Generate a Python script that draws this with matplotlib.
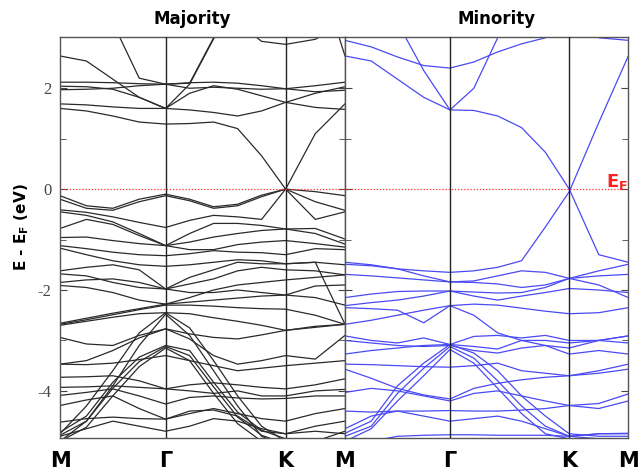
import numpy as np
import matplotlib
matplotlib.use("Agg")
import matplotlib.pyplot as plt

# ---------------- data ----------------
k_labels = ["M", "Γ", "K", "M"]
k_nodes = [0.0, 0.88, 1.88, 2.375]          # high-symmetry points along path
seg_div = [4, 5, 2]                          # samples per segment M-Γ, Γ-K, K-M

# Majority-spin bands (eV), sampled at the 12 k-points of the path
maj_u1 = [2.64, 2.54, 2.18, 1.82, 1.60, 2.08, 2.98, 3.6, 3.8, 3.9, 3.6, 3.4]
maj_u2 = [3.9, 3.7, 3.3, 2.2, 2.08, 2.1, 3.0, 3.3, 2.93, 2.87, 2.97, 3.3]
maj_u3 = [3.4, 3.6, 3.9, 4.2, 4.3, 4.2, 4.0, 3.9, 3.8, 3.8, 4.5, 2.64]
maj_f1 = [2.12, 2.12, 2.11, 2.09, 2.08, 2.11, 2.12, 2.1, 2.05, 1.99, 2.05, 2.12]
maj_f2 = [2.04, 2.03, 1.98, 1.82, 1.60, 1.9, 2.05, 1.98, 1.85, 1.72, 1.62, 1.58]
maj_f3 = [1.97, 1.98, 2.0, 2.05, 2.08, 2.0, 2.02, 2.0, 1.98, 1.99, 1.93, 1.96]
maj_g1 = [1.69, 1.67, 1.63, 1.6, 1.60, 1.57, 1.52, 1.45, 1.55, 1.72, 1.9, 2.03]
maj_g2 = [1.60, 1.55, 1.45, 1.33, 1.29, 1.30, 1.33, 1.2, 0.66, 0.0, 1.1, 1.69]
maj_v1 = [-0.13, -0.33, -0.38, -0.2, -0.1, -0.2, -0.35, -0.3, -0.12, 0.0, -0.05, -0.13]
maj_v2 = [-0.2, -0.38, -0.42, -0.25, -0.13, -0.23, -0.38, -0.33, -0.15, 0.0, -0.25, -0.42]
maj_v3 = [-0.41, -0.46, -0.55, -0.66, -0.76, -0.62, -0.52, -0.55, -0.6, 0.0, -0.6, -0.45]
maj_v4 = [-0.45, -0.52, -0.65, -0.88, -1.12, -0.88, -0.68, -0.68, -0.72, -0.79, -0.78, -0.99]
maj_v5 = [-0.78, -0.6, -0.7, -0.92, -1.12, -1.05, -0.95, -0.88, -0.82, -0.79, -0.88, -1.09]
maj_v6 = [-0.96, -0.95, -1.02, -1.08, -1.12, -1.2, -1.2, -1.1, -1.05, -1.02, -1.08, -1.15]
maj_v7 = [-1.12, -1.18, -1.25, -1.3, -1.32, -1.28, -1.22, -1.25, -1.26, -1.3, -1.18, -1.2]
maj_v8 = [-1.17, -1.3, -1.42, -1.5, -1.53, -1.5, -1.45, -1.4, -1.42, -1.48, -1.45, -1.5]
maj_v9 = [-1.62, -1.55, -1.5, -1.6, -1.98, -1.75, -1.6, -1.45, -1.48, -1.48, -1.45, -2.68]
maj_v10 = [-1.68, -1.72, -1.85, -1.95, -1.98, -1.88, -1.78, -1.62, -1.55, -1.6, -1.62, -1.7]
maj_v11 = [-1.85, -1.8, -1.78, -1.85, -1.98, -2.05, -2.05, -2.0, -2.05, -2.1, -1.92, -1.9]
maj_v12 = [-1.91, -1.95, -2.05, -2.2, -2.28, -2.15, -2.0, -1.9, -1.85, -1.8, -1.75, -1.7]
maj_b1 = [-2.66, -2.56, -2.46, -2.37, -2.28, -2.24, -2.2, -2.16, -2.12, -2.1, -2.15, -2.3]
maj_b2 = [-2.68, -2.59, -2.49, -2.39, -2.3, -2.3, -2.32, -2.35, -2.37, -2.38, -2.5, -2.68]
maj_b3 = [-2.7, -2.62, -2.54, -2.47, -2.45, -2.47, -2.55, -2.62, -2.7, -2.8, -2.72, -2.68]
maj_b4 = [-2.94, -3.07, -3.1, -2.9, -2.77, -2.87, -2.94, -2.97, -2.89, -2.8, -2.74, -2.68]
maj_b5 = [-3.47, -3.4, -3.2, -2.95, -2.77, -2.97, -3.3, -3.47, -3.4, -3.3, -3.37, -2.9]
maj_p1 = [-4.82, -4.5, -3.83, -3.33, -3.1, -3.2, -3.83, -4.42, -4.78, -4.95, -5.0, -5.0]
maj_p2 = [-4.88, -4.6, -3.95, -3.42, -3.12, -3.3, -3.92, -4.52, -4.88, -5.05, -5.0, -4.8]
maj_p3 = [-5.0, -4.72, -4.1, -3.52, -3.15, -3.4, -4.05, -4.65, -5.0, -5.1, -5.0, -5.0]
maj_p4 = [-4.85, -4.3, -3.6, -2.85, -2.45, -2.75, -3.4, -4.1, -4.7, -5.0, -5.0, -5.0]
maj_p5 = [-5.0, -4.6, -3.9, -3.1, -2.48, -2.9, -3.6, -4.3, -4.9, -5.1, -5.1, -5.0]
maj_f4 = [-3.93, -3.92, -3.9, -3.93, -3.96, -3.88, -3.84, -3.88, -3.93, -3.96, -3.88, -3.76]
maj_f5 = [-3.73, -3.72, -3.7, -3.8, -3.96, -4.0, -4.05, -4.0, -4.1, -4.1, -4.0, -3.97]
maj_f6 = [-4.09, -4.03, -3.96, -4.1, -4.26, -4.13, -4.1, -4.14, -4.16, -4.15, -4.1, -4.1]
maj_f7 = [-4.29, -4.18, -4.1, -4.35, -4.56, -4.45, -4.35, -4.45, -4.55, -4.6, -4.45, -4.35]
maj_f8 = [-4.62, -4.55, -4.52, -4.55, -4.56, -4.4, -4.38, -4.5, -4.8, -4.85, -4.7, -4.6]
maj_f9 = [-3.47, -3.48, -3.45, -3.38, -3.3, -3.4, -3.5, -3.6, -3.55, -3.5, -3.45, -3.4]
maj_f10 = [-4.9, -4.75, -4.6, -4.7, -4.8, -4.7, -4.55, -4.6, -4.75, -4.85, -4.8, -4.85]

# Minority-spin bands (eV)
min_m1 = [2.64, 2.54, 2.18, 1.82, 1.57, 1.56, 1.45, 1.22, 0.73, 0.0, -1.3, -1.45]
min_m2 = [-1.45, -1.5, -1.58, -1.62, -1.65, -1.62, -1.55, -1.42, -0.75, -0.05, 1.32, 2.64]
min_m3 = [4.2, 3.8, 3.3, 2.35, 1.57, 2.0, 3.0, 3.8, 4.2, 4.5, 4.2, 4.0]
min_m4 = [2.95, 2.82, 2.62, 2.45, 2.4, 2.52, 2.72, 2.88, 3.0, 3.3, 3.0, 2.95]
min_a = [-1.49, -1.52, -1.58, -1.72, -1.84, -1.82, -1.72, -1.62, -1.65, -1.77, -1.62, -1.49]
min_b = [-1.69, -1.72, -1.76, -1.8, -1.84, -1.85, -1.88, -1.95, -1.9, -1.77, -1.72, -1.69]
min_c = [-2.15, -2.08, -2.03, -2.02, -2.02, -2.04, -2.06, -2.05, -1.95, -1.77, -1.9, -2.15]
min_d = [-2.31, -2.25, -2.2, -2.12, -2.02, -2.12, -2.2, -2.12, -2.05, -1.97, -2.0, -2.05]
min_e = [-2.68, -2.6, -2.5, -2.4, -2.31, -2.5, -2.85, -3.0, -3.1, -3.15, -3.0, -2.91]
min_f = [-2.35, -2.37, -2.4, -2.65, -2.31, -2.28, -2.3, -2.36, -2.42, -2.47, -2.45, -2.35]
min_g = [-2.91, -3.0, -3.05, -2.95, -3.08, -2.92, -2.9, -2.95, -2.9, -3.0, -3.0, -2.91]
min_h = [-3.27, -3.2, -3.15, -3.1, -3.08, -3.12, -3.17, -3.0, -3.0, -3.05, -3.0, -3.05]
min_i = [-3.47, -3.48, -3.5, -3.52, -3.53, -3.5, -3.45, -3.6, -3.65, -3.7, -3.6, -3.47]
min_j = [-3.57, -3.75, -3.95, -4.08, -4.16, -3.95, -3.85, -3.78, -3.73, -3.7, -3.65, -3.57]
min_k1 = [-4.84, -4.6, -3.9, -3.45, -3.08, -3.25, -3.6, -4.1, -4.5, -4.85, -4.9, -4.9]
min_k2 = [-4.9, -4.7, -4.05, -3.55, -3.12, -3.35, -3.8, -4.3, -4.7, -4.9, -4.95, -4.95]
min_k3 = [-5.0, -4.75, -4.2, -3.7, -3.18, -3.45, -3.95, -4.45, -4.85, -4.95, -5.0, -5.0]
min_l = [-4.03, -3.95, -4.0, -4.1, -4.2, -4.05, -4.0, -4.1, -4.2, -4.29, -4.25, -4.06]
min_mm = [-4.4, -4.42, -4.4, -4.4, -4.39, -4.4, -4.4, -4.38, -4.35, -4.29, -4.35, -4.2]
min_n = [-4.75, -4.5, -4.4, -4.5, -4.6, -4.55, -4.5, -4.6, -4.75, -4.9, -4.85, -4.85]
min_o = [-5.0, -5.0, -4.9, -4.88, -4.87, -4.87, -4.88, -4.88, -4.88, -4.9, -4.85, -4.84]
min_p = [-3.0, -3.05, -3.1, -3.12, -3.1, -3.2, -3.25, -3.15, -3.1, -3.27, -3.2, -3.27]

maj_bands = [maj_u1, maj_u2, maj_u3, maj_f1, maj_f2, maj_f3, maj_g1, maj_g2,
             maj_v1, maj_v2, maj_v3, maj_v4, maj_v5, maj_v6, maj_v7, maj_v8,
             maj_v9, maj_v10, maj_v11, maj_v12, maj_b1, maj_b2, maj_b3, maj_b4,
             maj_b5, maj_p1, maj_p2, maj_p3, maj_p4, maj_p5, maj_f4, maj_f5,
             maj_f6, maj_f7, maj_f8, maj_f9, maj_f10]
min_bands = [min_m1, min_m2, min_m3, min_m4, min_a, min_b, min_c, min_d, min_e,
             min_f, min_g, min_h, min_i, min_j, min_k1, min_k2, min_k3, min_l,
             min_mm, min_n, min_o, min_p]

# ---------------- drawing ----------------
def k_path():
    ks = [k_nodes[0]]
    for i, n in enumerate(seg_div):
        ks += list(np.linspace(k_nodes[i], k_nodes[i + 1], n + 1)[1:])
    return np.array(ks)

k = k_path()
W, H = 639, 470
fig = plt.figure(figsize=(W / 100, H / 100), dpi=100)
bot = 1 - 438.3 / H
hgt = (438.3 - 37.3) / H
ax1 = fig.add_axes([60 / W, bot, 285 / W, hgt])
ax2 = fig.add_axes([345 / W, bot, 283.3 / W, hgt])

ylim = (-4.94, 3.01)
for ax, bands, col, labels in [(ax1, maj_bands, "#2a2a2a", k_labels),
                               (ax2, min_bands, "#4a4af5", [""] + k_labels[1:])]:
    for b in bands:
        ax.plot(k, b, color=col, lw=0.9, solid_joinstyle="round")
    for kn in k_nodes[1:-1]:
        ax.axvline(kn, color="#222222", lw=1.0, zorder=3)
    ax.axhline(0, color="#ff3030", lw=0.9, ls=(0, (1, 1.5)), zorder=4)
    ax.set_xlim(k_nodes[0], k_nodes[-1])
    ax.set_ylim(*ylim)
    ax.set_xticks(k_nodes)
    ax.set_xticklabels(labels, fontsize=15, fontweight="bold", family="DejaVu Sans")
    ax.tick_params(axis="x", length=0, pad=9)
    ax.set_yticks([-4, -2, 0, 2])
    ax.set_yticks([-3, -1, 1], minor=True)
    ax.tick_params(axis="y", which="both", direction="in", left=True, right=True,
                   color="#444444")
    ax.tick_params(axis="y", which="major", length=5)
    ax.tick_params(axis="y", which="minor", length=4)
    for s in ax.spines.values():
        s.set_color("#555555")
        s.set_linewidth(1.0)

ax1.set_yticklabels(["-4", "-2", "0", "2"], family="Liberation Serif", fontsize=12,
                    color="#444444")
ax1.tick_params(axis="y", pad=6)
ax2.set_yticklabels([])

fig.text(192 / W, 1 - 19 / H, "Majority", ha="center", va="center",
         fontsize=12, fontweight="bold")
fig.text(497 / W, 1 - 19 / H, "Minority", ha="center", va="center",
         fontsize=12, fontweight="bold")
fig.text(22 / W, 1 - 227 / H, r"E - E$_\mathbf{F}$ (eV)", rotation=90,
         ha="center", va="center", fontsize=11, fontweight="bold")
fig.text(606 / W, 1 - 187 / H, r"E$_\mathbf{F}$", ha="left", va="baseline",
         fontsize=13, fontweight="bold", color="#ff2020")

fig.savefig("out.png", dpi=100)
